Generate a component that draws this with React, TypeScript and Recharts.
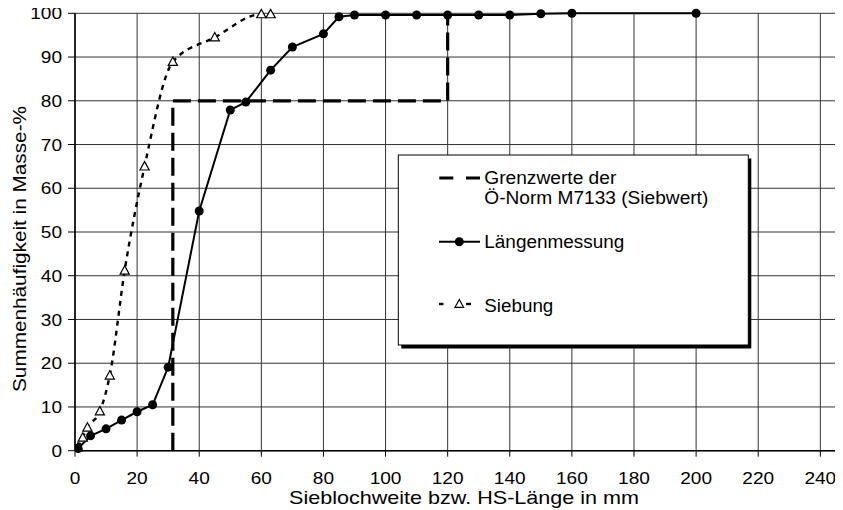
import React from 'react';
import { LineChart, Line, XAxis, YAxis, CartesianGrid } from 'recharts';

// ---- data ----
const xTicks = [0, 20, 40, 60, 80, 100, 120, 140, 160, 180, 200, 220, 240];
const yTicks = [0, 10, 20, 30, 40, 50, 60, 70, 80, 90, 100];

const laengeX = [1, 5, 10, 15, 20, 25, 30, 40, 50, 55, 63, 70, 80, 85, 90, 100, 110, 120, 130, 140, 150, 160, 200];
const laengeY = [0.5, 3.4, 5.0, 7.0, 8.9, 10.5, 19.1, 54.8, 77.9, 79.7, 87.0, 92.3, 95.3, 99.2, 99.6, 99.6, 99.6, 99.6, 99.6, 99.6, 99.9, 100, 100];

const siebX = [1, 2.5, 4, 8, 11.2, 16, 22.4, 31.5, 45, 60, 63];
const siebY = [0.8, 3.0, 5.3, 9.0, 17.2, 41.2, 65.0, 88.9, 94.5, 99.8, 99.8];

const grenzX = [31.5, 31.5, 120, 120];
const grenzY = [0, 80, 80, 100];

const seriesNames = ['Grenzwerte der', 'Ö-Norm M7133 (Siebwert)', 'Längenmessung', 'Siebung'];
const xTitle = 'Sieblochweite bzw. HS-Länge in mm';
const yTitle = 'Summenhäufigkeit in Masse-%';

const toRows = (xs: number[], ys: number[]) => xs.map((x, i) => ({ x, y: ys[i] }));
const laengeData = toRows(laengeX, laengeY);
const siebData = toRows(siebX, siebY);
const grenzData = toRows(grenzX, grenzY);

const FONT = '"Liberation Sans", Arial, sans-serif';

const Triangle = (props: any) => {
  const { cx, cy } = props;
  if (cx == null || cy == null) return null;
  return (
    <polygon
      points={`${cx},${cy - 4.8} ${cx - 4.6},${cy + 3.6} ${cx + 4.6},${cy + 3.6}`}
      fill="#fff"
      stroke="#000"
      strokeWidth={1.2}
    />
  );
};

const YTick = (props: any) => {
  const { x, y, payload } = props;
  const s = String(payload.value);
  return (
    <text x={x} y={y} dy="0.355em" textAnchor="end" fontSize={17} fontFamily={FONT} fill="#000"
      textLength={s.length * 10.6} lengthAdjust="spacingAndGlyphs">{s}</text>
  );
};

const XTick = (props: any) => {
  const { x, y, payload } = props;
  const s = String(payload.value);
  return (
    <text x={x} y={y} dy="0.71em" textAnchor="middle" fontSize={17} fontFamily={FONT} fill="#000"
      textLength={s.length * 10.6} lengthAdjust="spacingAndGlyphs">{s}</text>
  );
};

export default function App() {
  const W = 835;
  const H = 502;
  return (
    <div style={{ position: 'relative', width: W, height: H }}>
      <LineChart
        width={W}
        height={H}
        style={{ overflow: 'visible' }}
        margin={{ top: 5.3, right: 0, bottom: 29.3, left: 7 }}
      >
        <CartesianGrid stroke="#333" strokeWidth={1} />
        <XAxis
          type="number"
          dataKey="x"
          domain={[0, 247.3]}
          ticks={xTicks}
          interval={0}
          allowDataOverflow
          height={30}
          tickSize={6}
          tickMargin={15}
          tick={<XTick />}
          axisLine={{ stroke: '#000', strokeWidth: 1.5 }}
          tickLine={{ stroke: '#000', strokeWidth: 1 }}
        />
        <YAxis
          type="number"
          domain={[0, 100]}
          ticks={yTicks}
          interval={0}
          width={60}
          tickSize={7}
          tickMargin={6}
          tick={<YTick />}
          axisLine={{ stroke: '#000', strokeWidth: 1.5 }}
          tickLine={{ stroke: '#000', strokeWidth: 1 }}
        />
        <Line
          data={grenzData}
          dataKey="y"
          type="linear"
          stroke="#000"
          strokeWidth={3.2}
          strokeDasharray="18 7"
          dot={false}
          activeDot={false}
          isAnimationActive={false}
        />
        <Line
          data={siebData}
          dataKey="y"
          type="monotone"
          stroke="#000"
          strokeWidth={2.4}
          strokeDasharray="5 5"
          dot={<Triangle />}
          activeDot={false}
          isAnimationActive={false}
        />
        <Line
          data={laengeData}
          dataKey="y"
          type="linear"
          stroke="#000"
          strokeWidth={2}
          dot={{ r: 4.5, fill: '#000', stroke: '#000', strokeWidth: 0 }}
          activeDot={false}
          isAnimationActive={false}
        />
      </LineChart>
      <svg width={W} height={H} style={{ position: 'absolute', left: 0, top: 0, pointerEvents: 'none', overflow: 'visible' }}>
        {/* axis titles */}
        <text x={281} y={496} fontSize={18.5} fontFamily={FONT} fill="#000"
          textLength={350} lengthAdjust="spacingAndGlyphs">{xTitle}</text>
        <text transform="translate(18,241) rotate(-90)" x={0} y={0} textAnchor="middle" fontSize={18.5}
          fontFamily={FONT} fill="#000" textLength={286} lengthAdjust="spacingAndGlyphs">{yTitle}</text>
        {/* legend */}
        <rect x={393.3} y={150.5} width={350} height={190} fill="#000" />
        <rect x={390.3} y={147} width={350} height={190} fill="#fff" stroke="#000" strokeWidth={1} />
        <line x1={431.3} y1={170} x2={445.3} y2={170} stroke="#000" strokeWidth={3} />
        <line x1={458} y1={170} x2={472} y2={170} stroke="#000" strokeWidth={3} />
        <text x={476.3} y={176.3} fontSize={18} fontFamily={FONT} fill="#000"
          textLength={132} lengthAdjust="spacingAndGlyphs">{seriesNames[0]}</text>
        <text x={476.3} y={196.3} fontSize={18} fontFamily={FONT} fill="#000"
          textLength={224} lengthAdjust="spacingAndGlyphs">{seriesNames[1]}</text>
        <line x1={431} y1={233.7} x2={472} y2={233.7} stroke="#000" strokeWidth={2} />
        <circle cx={451.3} cy={233.7} r={4.5} fill="#000" />
        <text x={476.3} y={240.3} fontSize={18} fontFamily={FONT} fill="#000"
          textLength={140} lengthAdjust="spacingAndGlyphs">{seriesNames[2]}</text>
        <line x1={431} y1={296} x2={435.5} y2={296} stroke="#000" strokeWidth={2.4} />
        <line x1={458} y1={296} x2={463} y2={296} stroke="#000" strokeWidth={2.4} />
        <polygon points="451.3,291.5 447,299.3 455.6,299.3" fill="#fff" stroke="#000" strokeWidth={1.2} />
        <text x={476.3} y={303.7} fontSize={18} fontFamily={FONT} fill="#000"
          textLength={69} lengthAdjust="spacingAndGlyphs">{seriesNames[3]}</text>
      </svg>
    </div>
  );
}
